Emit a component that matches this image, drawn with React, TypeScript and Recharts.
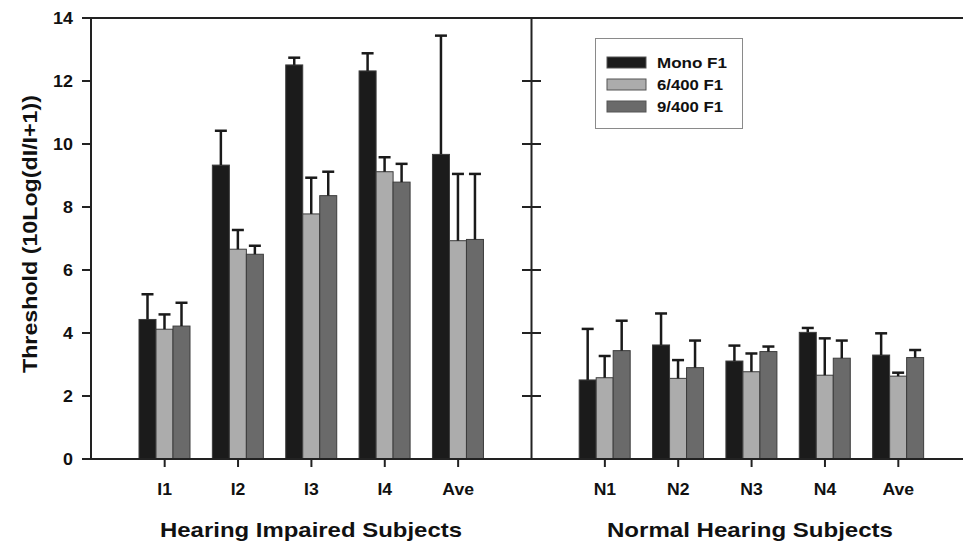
import React from 'react'
import {
  BarChart, Bar, XAxis, YAxis, Legend, ReferenceLine, ReferenceDot,
} from 'recharts'

const FONT = 'Arial, "Liberation Sans", Helvetica, sans-serif'
const AXIS = '#222'

// categories (gap = empty slot where the panel divider sits)
const categories = ['I1', 'I2', 'I3', 'I4', 'IAve', 'gap', 'N1', 'N2', 'N3', 'N4', 'NAve']
const tickLabels: Record<string, string> = {
  I1: 'I1', I2: 'I2', I3: 'I3', I4: 'I4', IAve: 'Ave',
  N1: 'N1', N2: 'N2', N3: 'N3', N4: 'N4', NAve: 'Ave', gap: '',
}
const seriesNames = ['Mono F1', '6/400 F1', '9/400 F1']

const monoF1 =    [4.43, 9.33, 12.51, 12.32, 9.67, null, 2.51, 3.62, 3.11, 4.02, 3.30]
const monoF1Err = [0.80, 1.09, 0.23,  0.56,  3.77, null, 1.62, 1.00, 0.49, 0.14, 0.69]
const f6 =        [4.12, 6.66, 7.78,  9.12,  6.93, null, 2.58, 2.56, 2.77, 2.66, 2.63]
const f6Err =     [0.47, 0.61, 1.15,  0.46,  2.12, null, 0.69, 0.58, 0.58, 1.17, 0.11]
const f9 =        [4.22, 6.50, 8.36,  8.79,  6.97, null, 3.44, 2.90, 3.41, 3.20, 3.22]
const f9Err =     [0.74, 0.27, 0.76,  0.58,  2.08, null, 0.95, 0.86, 0.16, 0.56, 0.24]

const yTicks = [0, 2, 4, 6, 8, 10, 12, 14]
const dividerTicks = [2, 4, 6, 8, 10, 12]

const data = categories.map((cat, i) => ({
  cat,
  mono: monoF1[i], monoErr: monoF1Err[i],
  f6: f6[i], f6Err: f6Err[i],
  f9: f9[i], f9Err: f9Err[i],
}))

const COLORS = { mono: '#1b1b1b', f6: '#acacac', f9: '#6a6a6a' }

// bar + upward-only error bar, scaled from the bar's own geometry
const barShape = (key: string, errKey: string) => (props: any) => {
  const { x, y, width, height, fill, payload } = props
  const v = payload?.[key]
  if (v == null || !height) return <g />
  const e = payload[errKey] ?? 0
  const top = y - (e * height) / v
  const cx = x + width / 2
  return (
    <g>
      <rect x={x} y={y} width={width} height={height} fill={fill} stroke="#3c3c3c" strokeWidth={1} />
      <line x1={cx} x2={cx} y1={y} y2={top} stroke="#1a1a1a" strokeWidth={2.5} />
      <line x1={cx - 6} x2={cx + 6} y1={top} y2={top} stroke="#1a1a1a" strokeWidth={2.5} />
    </g>
  )
}

const XTick = ({ x, y, payload }: any) => {
  if (payload.value === 'gap') return <g />
  return (
    <g>
      <line x1={x} x2={x} y1={y} y2={y + 8} stroke={AXIS} strokeWidth={2} />
      <text
        transform={`translate(${x},${y + 36}) scale(1.1,1)`}
        textAnchor="middle" fontSize={16} fontWeight="bold" fill="#111" fontFamily={FONT}
      >
        {tickLabels[payload.value]}
      </text>
    </g>
  )
}

const YTick = ({ x, y, payload }: any) => (
  <text
    transform={`translate(${x},${y}) scale(1.12,1)`}
    dy="0.355em" textAnchor="end" fontSize={16} fontWeight="bold" fill="#111" fontFamily={FONT}
  >
    {payload.value}
  </text>
)

const LegendBox = ({ payload }: any) => {
  const items = [...(payload || [])].sort(
    (a: any, b: any) => seriesNames.indexOf(a.value) - seriesNames.indexOf(b.value),
  )
  return (
    <svg width={149} height={92} style={{ display: 'block' }}>
      <rect x={0.5} y={0.5} width={147} height={90} fill="#fff" stroke="#8a8a8a" strokeWidth={1} />
      {items.map((p: any, i: number) => (
        <g key={p.value}>
          <rect x={12} y={19 + i * 22} width={39} height={11} fill={p.color} stroke="#555" strokeWidth={1} />
          <text
            x={62} y={30 + i * 22} fontSize={14} fontWeight="bold" fill="#111" fontFamily={FONT}
            textLength={i === 0 ? 70 : 66} lengthAdjust="spacingAndGlyphs"
          >
            {p.value}
          </text>
        </g>
      ))}
    </svg>
  )
}

export default function App() {
  return (
    <div style={{ position: 'absolute', left: 0, top: 0, width: 963, height: 542, background: '#fff' }}>
      <BarChart
        width={963}
        height={542}
        data={data}
        margin={{ top: 18, right: 0, bottom: 0, left: 0 }}
        barGap={0}
        barSize={17}
      >
        <XAxis
          dataKey="cat"
          height={83}
          interval={0}
          padding={{ left: 37, right: 28 }}
          tickLine={false}
          tickSize={0}
          tickMargin={0}
          tick={<XTick />}
          axisLine={{ stroke: AXIS, strokeWidth: 2 }}
        />
        <YAxis
          width={91}
          domain={[0, 14]}
          ticks={yTicks}
          interval={0}
          tickSize={9}
          tickMargin={9}
          tick={<YTick />}
          tickLine={{ stroke: AXIS, strokeWidth: 2 }}
          axisLine={{ stroke: AXIS, strokeWidth: 2 }}
        />
        <ReferenceLine y={14} stroke={AXIS} strokeWidth={2} />
        <ReferenceLine x="gap" stroke={AXIS} strokeWidth={2} />
        {dividerTicks.map(t => (
          <ReferenceDot
            key={t}
            x="gap"
            y={t}
            shape={(p: any) => (
              <line x1={p.cx - 9.5} x2={p.cx + 9.5} y1={p.cy} y2={p.cy} stroke={AXIS} strokeWidth={2} />
            )}
          />
        ))}
        <Legend
          layout="vertical"
          align="center"
          verticalAlign="middle"
          itemSorter={null as any}
          wrapperStyle={{ position: 'absolute', left: 595, top: 38, width: 149, height: 92 }}
          content={<LegendBox />}
        />
        <Bar dataKey="mono" name="Mono F1" fill={COLORS.mono} isAnimationActive={false} shape={barShape('mono', 'monoErr')} />
        <Bar dataKey="f6" name="6/400 F1" fill={COLORS.f6} isAnimationActive={false} shape={barShape('f6', 'f6Err')} />
        <Bar dataKey="f9" name="9/400 F1" fill={COLORS.f9} isAnimationActive={false} shape={barShape('f9', 'f9Err')} />
      </BarChart>
      <svg
        width={963}
        height={542}
        style={{ position: 'absolute', left: 0, top: 0, pointerEvents: 'none' }}
        fontFamily={FONT}
        fontWeight="bold"
        fill="#111"
      >
        <text
          x={37} y={234} transform="rotate(-90, 37, 234)" textAnchor="middle" fontSize={20}
          textLength={278} lengthAdjust="spacingAndGlyphs"
        >
          Threshold (10Log(dI/I+1))
        </text>
        <text x={311} y={537} textAnchor="middle" fontSize={21} textLength={302} lengthAdjust="spacingAndGlyphs">
          Hearing Impaired Subjects
        </text>
        <text x={750} y={537} textAnchor="middle" fontSize={21} textLength={286} lengthAdjust="spacingAndGlyphs">
          Normal Hearing Subjects
        </text>
      </svg>
    </div>
  )
}
